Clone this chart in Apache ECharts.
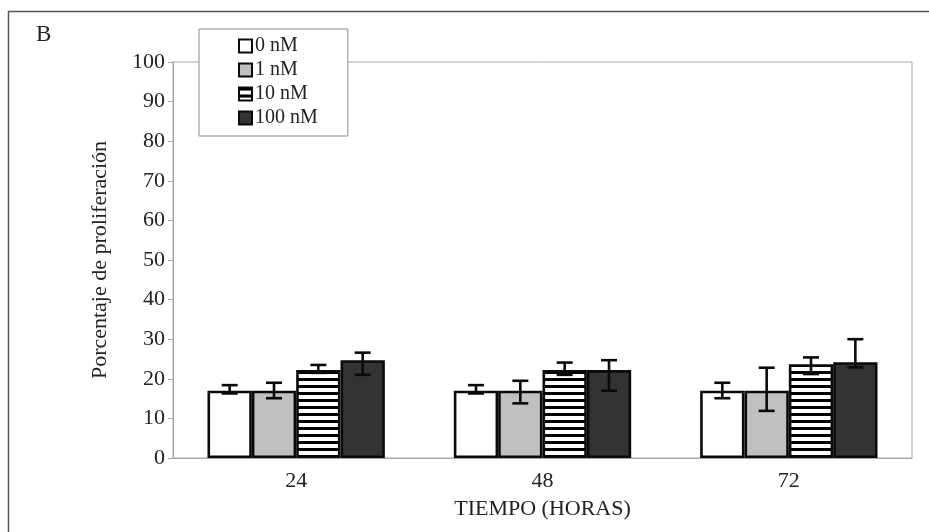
<!DOCTYPE html>
<html>
<head>
<meta charset="utf-8">
<script src="https://cdn.jsdelivr.net/npm/echarts@6/dist/echarts.min.js"></script>
<style>
  html, body { margin: 0; padding: 0; background: #fff; }
  #chart { width: 929px; height: 532px; }
</style>
</head>
<body>
<div id="chart"></div>
<script>
// Proliferation percentage by time point and concentration
const categories = ['24', '48', '72'];
const seriesNames = ['0 nM', '1 nM', '10 nM', '100 nM'];
const yTicks = [0, 10, 20, 30, 40, 50, 60, 70, 80, 90, 100];

const mean0nM   = [17.0, 17.0, 17.0];
const mean1nM   = [17.0, 17.0, 17.0];
const mean10nM  = [22.2, 22.2, 23.7];
const mean100nM = [24.7, 22.2, 24.2];

// error bar ends (low / high)
const low0nM    = [16.3, 16.3, 15.1];
const high0nM   = [18.4, 18.4, 19.0];
const low1nM    = [15.1, 13.8, 11.9];
const high1nM   = [19.0, 19.5, 22.8];
const low10nM   = [21.5, 21.0, 21.2];
const high10nM  = [23.5, 24.1, 25.4];
const low100nM  = [21.0, 17.0, 22.9];
const high100nM = [26.6, 24.7, 30.0];

const means = [mean0nM, mean1nM, mean10nM, mean100nM];
const lows = [low0nM, low1nM, low10nM, low100nM];
const highs = [high0nM, high1nM, high10nM, high100nM];

const FONT = '"Liberation Serif", "DejaVu Serif", serif';
const CAT_GAP = 0.28;

// horizontal stripe fill for the 10 nM bars
function stripePattern() {
  const c = document.createElement('canvas');
  c.width = 8; c.height = 7;
  const ctx = c.getContext('2d');
  ctx.fillStyle = '#ffffff';
  ctx.fillRect(0, 0, 8, 7);
  ctx.fillStyle = '#000000';
  ctx.fillRect(0, 0, 8, 3);
  return c;
}

const fills = ['#ffffff', '#c0c0c0', { image: stripePattern(), repeat: 'repeat' }, '#333333'];

const barSeries = seriesNames.map((name, i) => ({
  name: name,
  type: 'bar',
  data: means[i],
  barGap: '0%',
  barCategoryGap: (CAT_GAP * 100) + '%',
  itemStyle: { color: fills[i], borderColor: '#0a0a0a', borderWidth: 2.6 },
  emphasis: { disabled: true },
  z: 2
}));

const errData = [];
for (let s = 0; s < seriesNames.length; s++) {
  for (let c = 0; c < categories.length; c++) {
    errData.push([c, s, lows[s][c], highs[s][c]]);
  }
}

const errorSeries = {
  type: 'custom',
  name: 'err',
  data: errData,
  encode: { x: 0, y: [2, 3] },
  z: 5,
  renderItem: function (params, api) {
    const cat = api.value(0);
    const s = api.value(1);
    const catW = api.size([1, 0])[0];
    const barW = catW * (1 - CAT_GAP) / seriesNames.length;
    const cx = api.coord([cat, 0])[0] + (s - (seriesNames.length - 1) / 2) * barW;
    const yLo = api.coord([cat, api.value(2)])[1];
    const yHi = api.coord([cat, api.value(3)])[1];
    const cap = 8;
    const st = { stroke: '#0a0a0a', lineWidth: 2.6 };
    return {
      type: 'group',
      children: [
        { type: 'line', shape: { x1: cx, y1: yLo, x2: cx, y2: yHi }, style: st },
        { type: 'line', shape: { x1: cx - cap, y1: yHi, x2: cx + cap, y2: yHi }, style: st },
        { type: 'line', shape: { x1: cx - cap, y1: yLo, x2: cx + cap, y2: yLo }, style: st }
      ]
    };
  }
};

const chart = echarts.init(document.getElementById('chart'), null, { renderer: 'canvas' });
chart.setOption({
  animation: false,
  backgroundColor: '#ffffff',
  textStyle: { fontFamily: FONT },
  graphic: [
    {
      type: 'rect',
      shape: { x: 8.5, y: 11.5, width: 960, height: 560 },
      style: { fill: 'none', stroke: '#555', lineWidth: 1.5 },
      z: 0
    },
    {
      type: 'text',
      left: 36, top: 23,
      style: { text: 'B', font: '23px ' + FONT, fill: '#222' }
    }
  ],
  grid: {
    left: 173, right: 17, top: 62, bottom: 74,
    show: true, borderColor: '#a8a8a8', borderWidth: 1, backgroundColor: 'transparent'
  },
  legend: {
    data: seriesNames,
    orient: 'vertical',
    left: 199, top: 29,
    padding: [7, 30, 8, 39],
    itemGap: 4,
    itemWidth: 13, itemHeight: 13,
    backgroundColor: '#ffffff',
    borderColor: '#8c8c8c', borderWidth: 1,
    borderRadius: 0,
    icon: 'rect',
    itemStyle: { borderColor: '#0a0a0a', borderWidth: 2 },
    textStyle: { fontFamily: FONT, fontSize: 20, color: '#222', lineHeight: 20, padding: [0, 0, 0, -2] },
    selectedMode: false,
    z: 10
  },
  xAxis: {
    type: 'category',
    data: categories,
    name: 'TIEMPO (HORAS)',
    nameLocation: 'middle',
    nameGap: 40,
    nameTextStyle: { fontFamily: FONT, fontSize: 22, color: '#222' },
    axisLine: { lineStyle: { color: '#a8a8a8', width: 1 } },
    axisTick: { show: false },
    axisLabel: { fontFamily: FONT, fontSize: 22, color: '#222', margin: 12 },
    splitLine: { show: false }
  },
  yAxis: {
    type: 'value',
    min: 0, max: 100, interval: 10,
    name: 'Porcentaje de proliferación',
    nameLocation: 'middle',
    nameGap: 62,
    nameRotate: 90,
    nameTextStyle: { fontFamily: FONT, fontSize: 22, color: '#222' },
    axisLine: { show: true, lineStyle: { color: '#a8a8a8', width: 1 } },
    axisTick: { show: true, inside: false, length: 5, lineStyle: { color: '#a8a8a8' } },
    axisLabel: {
      fontFamily: FONT, fontSize: 22, color: '#222', margin: 8,
      formatter: v => (yTicks.indexOf(v) >= 0 ? String(v) : '')
    },
    splitLine: { show: false }
  },
  series: barSeries.concat([errorSeries])
});
</script>
</body>
</html>
